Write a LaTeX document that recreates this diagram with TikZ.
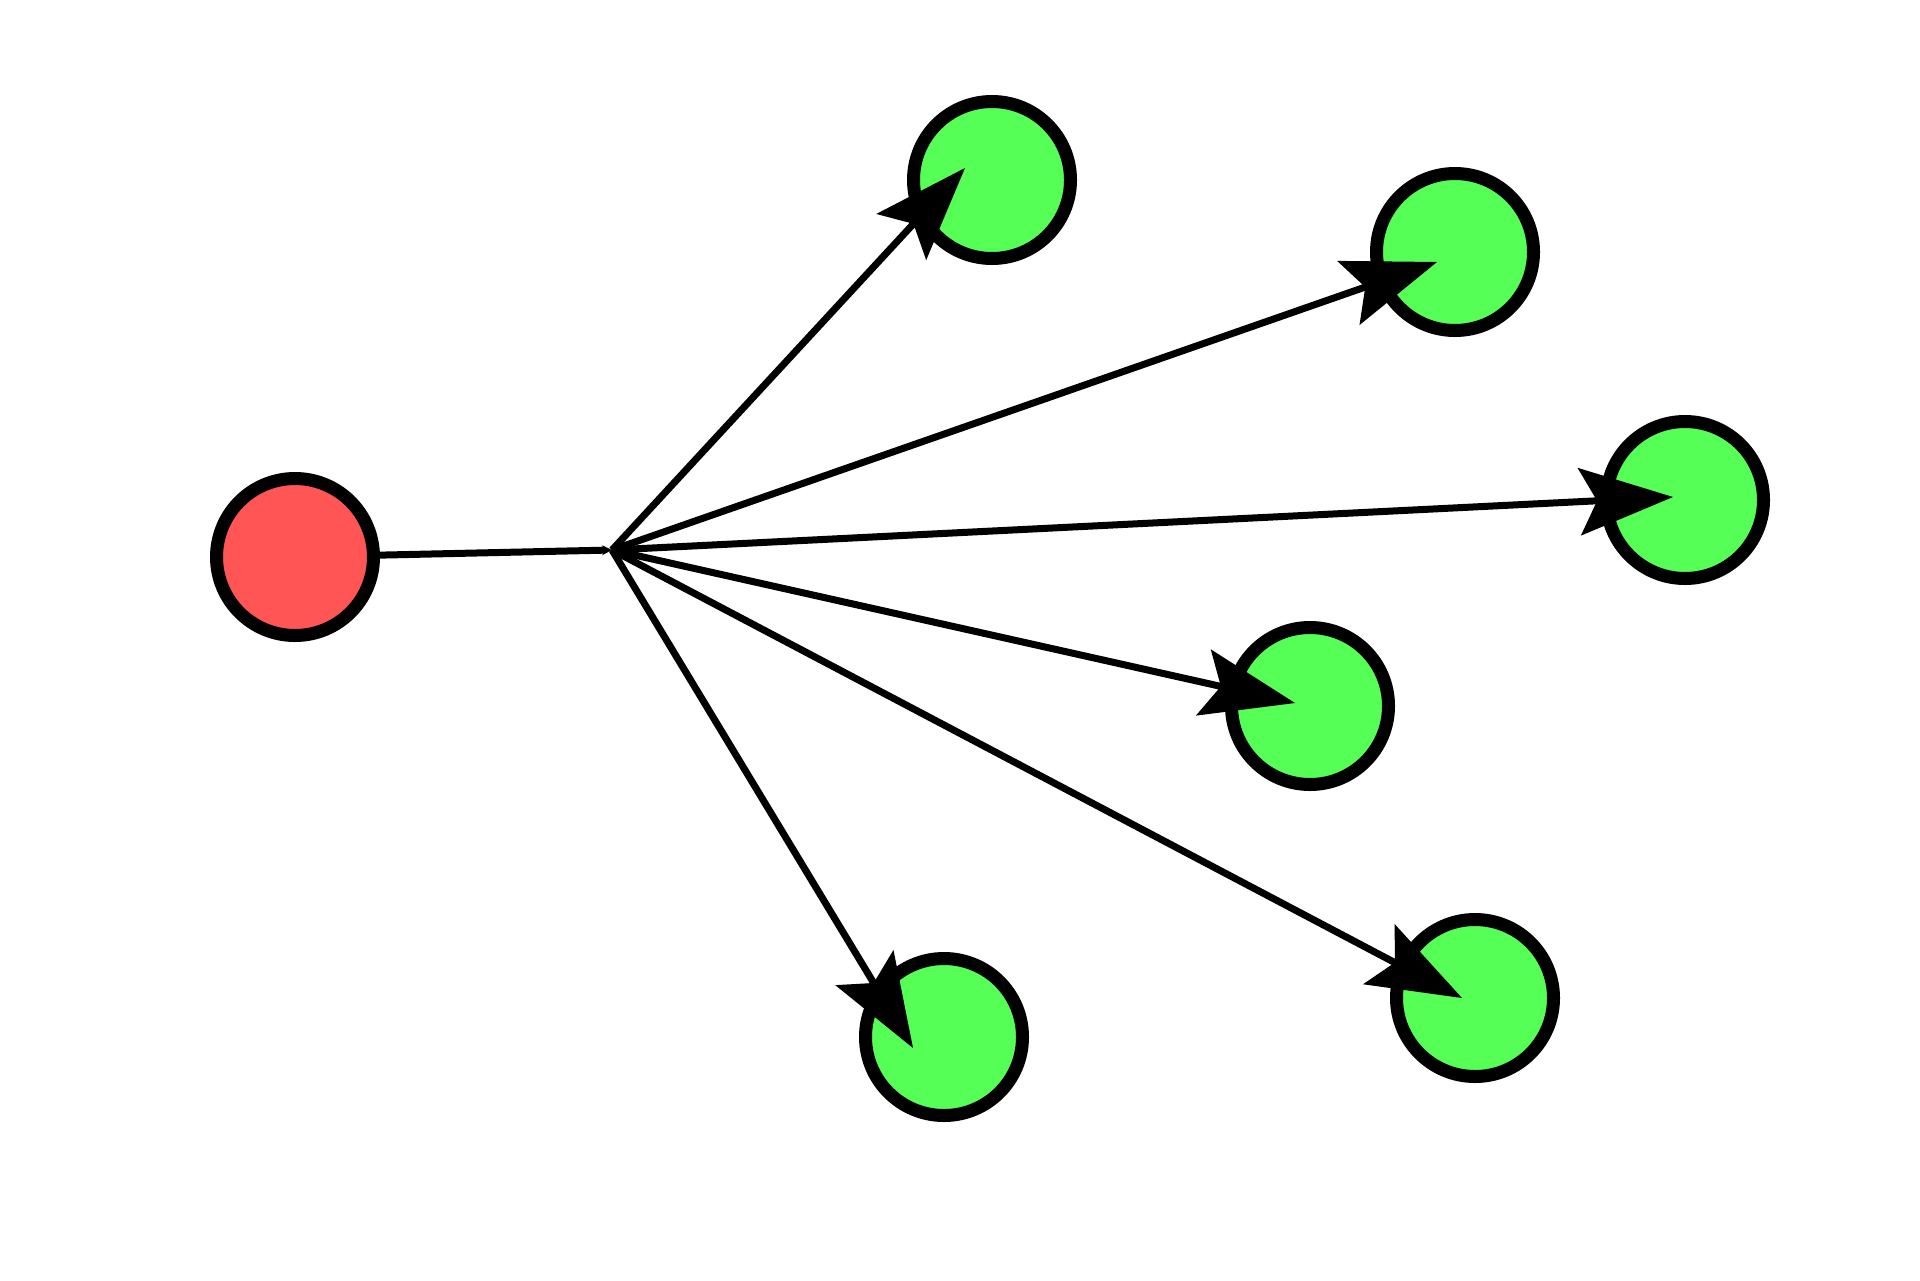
\documentclass[tikz,border=0pt]{standalone}
\usetikzlibrary{arrows.meta}

\definecolor{srcred}{RGB}{255,85,85}
\definecolor{leafgreen}{RGB}{85,255,85}

\begin{document}
\begin{tikzpicture}[x=0.5pt,y=-0.5pt,
	vertex/.style={circle,draw=black,line width=6.5pt,minimum size=78.5pt,inner sep=0pt},
	source/.style={vertex,fill=srcred},
	leaf/.style={vertex,fill=leafgreen},
	>={Stealth[length=47pt,width=34pt,inset=9pt,line width=0pt]}]

\useasboundingbox (0,0) rectangle (1920,1280);

\node[source] (s)  at (295,557)   {};
\coordinate   (h)  at (612,550);
\node[leaf]   (g1) at (992,180)   {};
\node[leaf]   (g2) at (1455,252)  {};
\node[leaf]   (g3) at (1685,500)  {};
\node[leaf]   (g4) at (1310,706)  {};
\node[leaf]   (g5) at (1475,998)  {};
\node[leaf]   (g6) at (944,1037)  {};

\draw[-{Stealth[length=5pt,width=5pt,line width=0pt]},line width=3.5pt] (s) -- (h);

\path[->,line width=3.5pt] (h) edge ([shift={(-27,-12)}]g1.center)
				edge ([shift={(-18,10)}]g2.center)
				edge ([shift={(-12,-3)}]g3.center)
				edge ([shift={(-15,-3)}]g4.center)
				edge ([shift={(-13,0)}]g5.center)
				edge ([shift={(-31,11)}]g6.center);
\end{tikzpicture}
\end{document}
